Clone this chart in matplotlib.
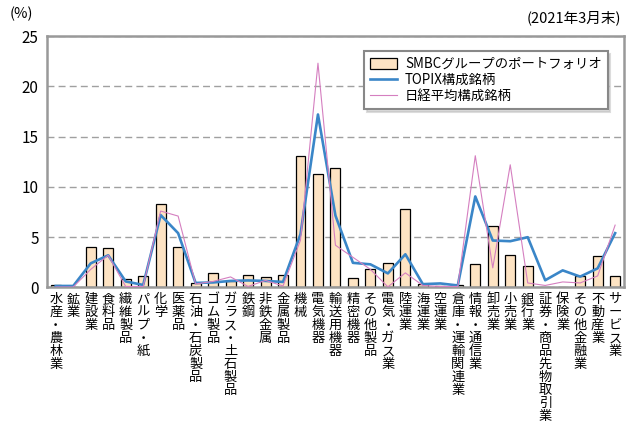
import matplotlib
matplotlib.use("Agg")
import matplotlib.pyplot as plt
import numpy as np

plt.rcParams['font.family'] = ['Noto Sans CJK JP', 'DejaVu Sans']

# Sector names (TOPIX 33 sectors)
sectors = [
    "水産・農林業", "鉱業", "建設業", "食料品", "繊維製品", "パルプ・紙", "化学",
    "医薬品", "石油・石炭製品", "ゴム製品", "ガラス・土石製品", "鉄鋼", "非鉄金属",
    "金属製品", "機械", "電気機器", "輸送用機器", "精密機器", "その他製品",
    "電気・ガス業", "陸運業", "海運業", "空運業", "倉庫・運輸関連業", "情報・通信業",
    "卸売業", "小売業", "銀行業", "証券・商品先物取引業", "保険業", "その他金融業",
    "不動産業", "サービス業",
]

# SMBC group portfolio (%)
smbc = [0.2, 0.05, 4.0, 3.9, 0.85, 1.1, 8.3, 4.0, 0.45, 1.4, 0.65, 1.2, 1.0,
        1.2, 13.1, 11.3, 11.9, 0.9, 1.8, 2.45, 7.85, 0.3, 0.1, 0.2, 2.35,
        6.15, 3.2, 2.15, 0.05, 0.05, 1.15, 3.15, 1.1]

# TOPIX constituents (%)
topix = [0.15, 0.15, 2.4, 3.2, 0.6, 0.25, 7.2, 5.4, 0.45, 0.5, 0.65, 0.7, 0.65,
         0.55, 5.3, 17.2, 7.15, 2.45, 2.3, 1.4, 3.3, 0.33, 0.4, 0.2, 9.05,
         4.67, 4.6, 5.0, 0.72, 1.7, 1.08, 1.9, 5.4]

# Nikkei 225 constituents (%)
nikkei = [0.05, 0.05, 1.8, 3.2, 0.1, 0.1, 7.6, 7.1, 0.35, 0.6, 1.05, 0.1, 0.7,
          0.15, 4.7, 22.3, 4.2, 3.0, 1.8, 0.06, 1.45, 0.2, 0.1, 0.1, 13.1,
          1.95, 12.2, 0.45, 0.2, 0.55, 0.45, 1.15, 6.2]

x = np.arange(len(sectors))

fig = plt.figure(figsize=(6.27, 4.24), dpi=100)
ax = fig.add_axes([0.075, 0.322, 0.92, 0.593])

bars = ax.bar(x, smbc, width=0.57, color="#fde3c3", edgecolor="black", linewidth=0.9,
              label="SMBCグループのポートフォリオ", zorder=2)
l1, = ax.plot(x, topix, color="#3a86c8", linewidth=1.9, label="TOPIX構成銘柄", zorder=3)
l2, = ax.plot(x, nikkei, color="#d57fc0", linewidth=0.8, label="日経平均構成銘柄", zorder=3)

ax.set_xlim(-0.5, len(sectors) - 0.5)
ax.set_ylim(0, 25)
ax.set_yticks([0, 5, 10, 15, 20, 25])
ax.yaxis.grid(True, color="#a0a0a0", linestyle=(0, (5, 3)), linewidth=1.0)
ax.set_axisbelow(True)

# Vertical (stacked) Japanese labels
ax.set_xticks(x)
ax.set_xticklabels(["\n".join(s) for s in sectors], fontsize=9.5,
                   linespacing=1.0, va="top")
ax.tick_params(axis="x", length=0, pad=4)
ax.tick_params(axis="y", length=0, labelsize=11, pad=6)

for sp in ax.spines.values():
    sp.set_color("#999999")
    sp.set_linewidth(1.8)

leg = ax.legend([bars, l1, l2],
                ["SMBCグループのポートフォリオ", "TOPIX構成銘柄", "日経平均構成銘柄"],
                loc="upper right", bbox_to_anchor=(0.972, 0.94), fontsize=9.6,
                frameon=True, fancybox=False, shadow={"color": "#bbbbbb"},
                borderpad=0.45, handlelength=2.0, handleheight=0.8,
                labelspacing=0.15, handletextpad=0.6, borderaxespad=0)
leg.get_frame().set_edgecolor("#888888")
leg.get_frame().set_linewidth(1.5)

fig.text(0.016, 0.968, "(%)", fontsize=10.5, ha="left", va="center")
fig.text(0.99, 0.957, "(2021年3月末)", fontsize=10.5, ha="right", va="center")

fig.savefig("out.png", dpi=100)
